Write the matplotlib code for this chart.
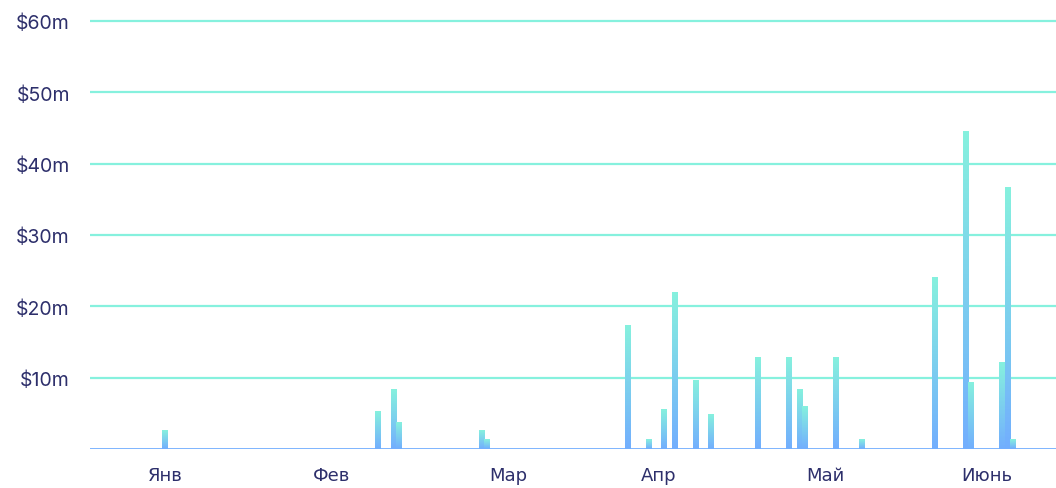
import matplotlib
matplotlib.use('Agg')
import matplotlib.pyplot as plt
import matplotlib.dates as mdates
import numpy as np
import pandas as pd

# daily amounts, $ millions
dates = ['2023-01-15', '2023-02-25', '2023-02-28', '2023-03-01', '2023-03-17',
         '2023-03-18', '2023-04-14', '2023-04-18', '2023-04-21', '2023-04-23',
         '2023-04-27', '2023-04-30', '2023-05-09', '2023-05-15', '2023-05-17',
         '2023-05-18', '2023-05-24', '2023-05-29', '2023-06-12', '2023-06-18',
         '2023-06-19', '2023-06-25', '2023-06-26', '2023-06-27']
values = [2.66, 5.2, 8.4, 3.7, 2.66,
          1.4, 17.25, 1.4, 5.47, 22.0,
          9.54, 4.77, 12.76, 12.76, 8.4,
          5.9, 12.76, 1.4, 24.1, 44.5,
          9.26, 12.06, 36.6, 1.4]

month_ticks = ['2023-01-15', '2023-02-16', '2023-03-22', '2023-04-20', '2023-05-22', '2023-06-22']
month_labels = ['Янв', 'Фев', 'Мар', 'Апр', 'Май', 'Июнь']
y_ticks = [10, 20, 30, 40, 50, 60]

TEAL = '#86F1DE'
BLUE = '#72AEFE'
NAVY = '#2D2F6B'

x = mdates.date2num(pd.to_datetime(dates))
fig = plt.figure(figsize=(10.56, 4.89), dpi=100)
ax = fig.add_axes([90 / 1056, 39 / 489, 966 / 1056, 440 / 489])

# gridlines
for v in y_ticks:
    ax.axhline(v, color=TEAL, lw=1.6, zorder=1)
ax.axhline(0, color=BLUE, lw=2.0, zorder=4)

bars = ax.bar(x, values, width=1.15, color='none', zorder=3)

# vertical gradient in each bar: teal at top, blue at bottom
grad = np.linspace(0, 1, 256).reshape(-1, 1)
cmap = matplotlib.colors.LinearSegmentedColormap.from_list('g', [BLUE, TEAL])
for b in bars:
    bx, by, bw, bh = b.get_x(), b.get_y(), b.get_width(), b.get_height()
    ax.imshow(grad, extent=[bx, bx + bw, by, by + bh], origin='lower',
              cmap=cmap, aspect='auto', zorder=3)

start = mdates.date2num(pd.Timestamp('2023-01-01'))
ax.set_xlim(start - 0.42, start + 185.3)
ax.set_ylim(0, 440 / 7.133)

ax.set_xticks(mdates.date2num(pd.to_datetime(month_ticks)))
ax.set_xticklabels(month_labels, fontsize=13, color=NAVY,
                   family=['Liberation Sans Narrow', 'DejaVu Sans'])
ax.set_yticks(y_ticks)
ax.set_yticklabels([f'${v}m' for v in y_ticks], fontsize=14, color=NAVY,
                   family=['Inter', 'DejaVu Sans'])
ax.tick_params(axis='both', length=0)
ax.tick_params(axis='x', pad=12)
ax.tick_params(axis='y', pad=14.5)
for s in ax.spines.values():
    s.set_visible(False)

fig.savefig('out.png', dpi=100)
